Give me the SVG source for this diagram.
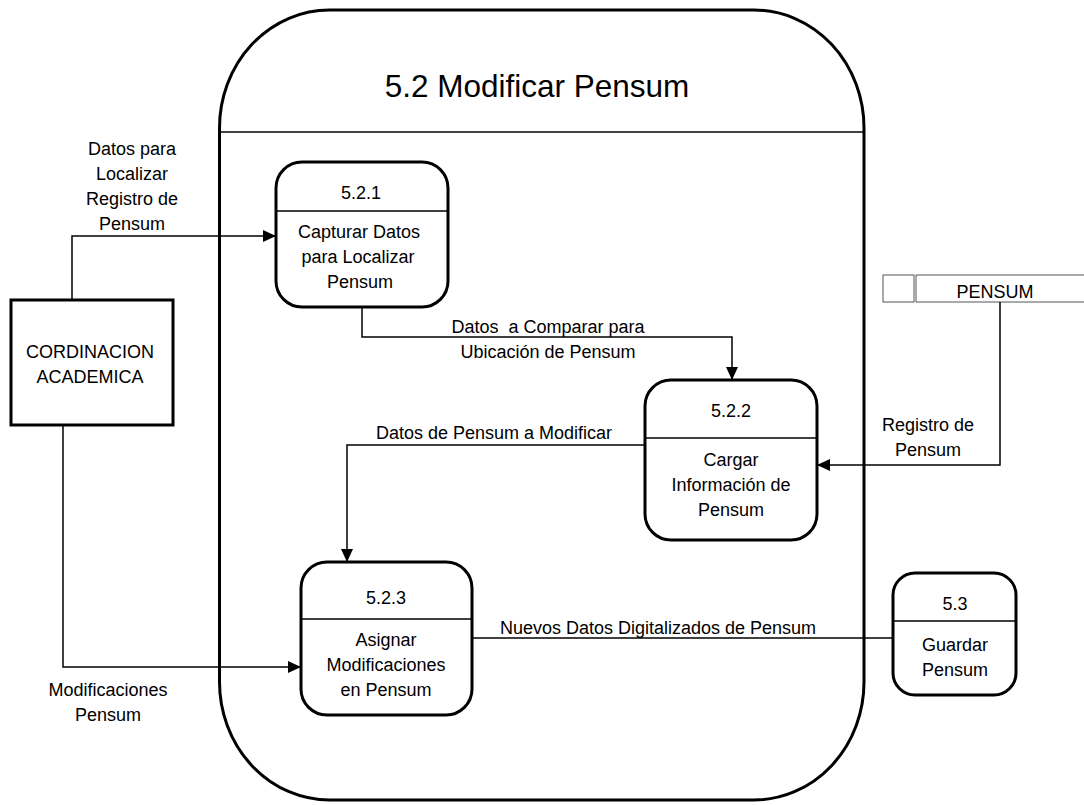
<svg xmlns="http://www.w3.org/2000/svg" width="1084" height="805" viewBox="0 0 1084 805">
<defs>
<style>
text{font-family:"Liberation Sans",Arial,sans-serif;font-size:18px;fill:#000;text-anchor:middle}
.title{font-size:31.5px}
.proc{fill:#fff;stroke:#000;stroke-width:3}
.sep{stroke:#000;stroke-width:1.5}
.conn{fill:none;stroke:#000;stroke-width:1.5}
</style>
<marker id="arr" viewBox="0 0 13 12" refX="13" refY="6" markerWidth="13" markerHeight="12" markerUnits="userSpaceOnUse" orient="auto">
<path d="M0,0 L13,6 L0,12 Z" fill="#000"/>
</marker>
</defs>
<rect width="1084" height="805" fill="#fff"/>
<g id="p52">
<rect class="proc" x="219.500" y="10" width="644.5" height="790" rx="110" ry="118"/>
<line class="sep" x1="219" y1="132" x2="864" y2="132"/>
<text class="title" x="537" y="97">5.2 Modificar Pensum</text>
</g>
<g id="ext">
<rect class="proc" x="11" y="300" width="162" height="125"/>
<text x="90" y="358">CORDINACION</text>
<text x="90" y="383">ACADEMICA</text>
</g>
<g id="p521">
<rect class="proc" x="276" y="162" width="172" height="145" rx="26"/>
<line class="sep" x1="276" y1="211" x2="448" y2="211"/>
<text x="361" y="199">5.2.1</text>
<text x="359" y="238">Capturar Datos</text>
<text x="358" y="263">para Localizar</text>
<text x="360" y="288">Pensum</text>
</g>
<g id="p522">
<rect class="proc" x="645" y="380" width="172" height="160" rx="26"/>
<line class="sep" x1="645" y1="438" x2="817" y2="438"/>
<text x="731" y="417">5.2.2</text>
<text x="731" y="466">Cargar</text>
<text x="731" y="491">Información de</text>
<text x="731" y="516">Pensum</text>
</g>
<g id="p523">
<rect class="proc" x="301" y="562" width="171" height="153" rx="26"/>
<line class="sep" x1="301" y1="619" x2="472" y2="619"/>
<text x="386" y="604">5.2.3</text>
<text x="386" y="646">Asignar</text>
<text x="386" y="671">Modificaciones</text>
<text x="386" y="696">en Pensum</text>
</g>
<g id="p53">
<rect class="proc" x="893" y="573" width="123" height="122" rx="22"/>
<line class="sep" x1="893" y1="621" x2="1016" y2="621"/>
<text x="955" y="610">5.3</text>
<text x="955" y="651">Guardar</text>
<text x="955" y="676">Pensum</text>
</g>
<g id="store">
<rect x="883" y="275" width="31" height="27" fill="#fff" stroke="#555" stroke-width="1"/>
<path d="M916,275 H1084 M916,302 H1084 M916,275 V302" fill="none" stroke="#555" stroke-width="1"/>
<text x="995" y="298">PENSUM</text>
</g>
<g id="connectors">
<path class="conn" d="M72,300 V236 H276" marker-end="url(#arr)"/>
<path class="conn" d="M63,425 V667 H301" marker-end="url(#arr)"/>
<path class="conn" d="M362,307 V337 H732 V380" marker-end="url(#arr)"/>
<path class="conn" d="M645,445 H347 V562" marker-end="url(#arr)"/>
<path class="conn" d="M1000,302 V465 H817" marker-end="url(#arr)"/>
<path class="conn" d="M472,638 H893"/>
</g>
<g id="labels">
<text x="132" y="155">Datos para</text>
<text x="132" y="180">Localizar</text>
<text x="132" y="205">Registro de</text>
<text x="132" y="230">Pensum</text>
<text x="108" y="696">Modificaciones</text>
<text x="108" y="721">Pensum</text>
<text x="548" y="333" xml:space="preserve">Datos  a Comparar para</text>
<text x="548" y="358">Ubicación de Pensum</text>
<text x="494" y="439">Datos de Pensum a Modificar</text>
<text x="928" y="431">Registro de</text>
<text x="928" y="456">Pensum</text>
<text x="658" y="634">Nuevos Datos Digitalizados de Pensum</text>
</g>
</svg>
